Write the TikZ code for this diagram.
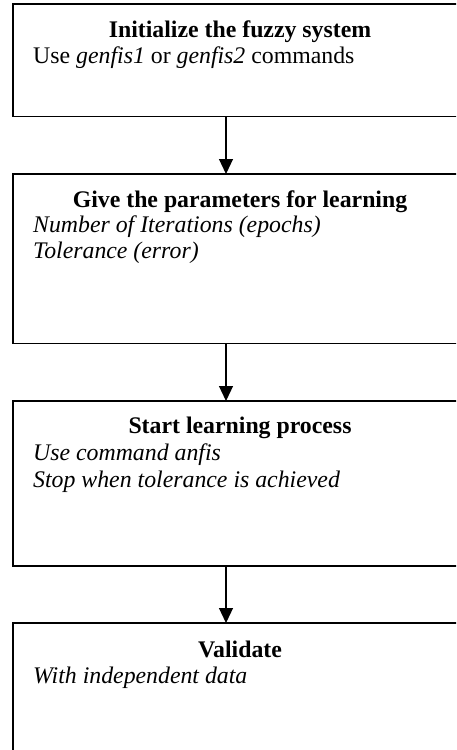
\documentclass[tikz,border=0pt]{standalone}
\usepackage{fontspec}
\setmainfont{Liberation Serif}
\usetikzlibrary{arrows.meta}
\begin{document}
\begin{tikzpicture}[x=1pt,y=1pt,
  box/.style={draw, line width=1.8pt, minimum width=454pt, anchor=north west, inner sep=0pt, outer sep=0pt},
  title/.style={font=\fontsize{23.8}{27}\selectfont\bfseries, anchor=base, inner sep=0pt},
  body/.style={font=\fontsize{23.8}{27}\selectfont\itshape, anchor=base west, inner sep=0pt},
  arr/.style={-{Triangle[length=15pt,width=14pt]}, line width=1.2pt}]
\useasboundingbox (0,0) rectangle (456,-750);
\clip (0,0) rectangle (456,-750);
\node[box, minimum height=112.5pt] (b1) at (13,-4) {};
\node[box, minimum height=169.5pt] (b2) at (13,-174) {};
\node[box, minimum height=165pt] (b3) at (13,-401) {};
\node[box, minimum height=160pt] (b4) at (13,-623) {};
\coordinate (ax) at (226,0);
\node[title] (t1) at (240,-37.5) {Initialize the fuzzy system};
\node[body] (d1) at (33,-63.5) {\upshape Use \textit{genfis1} or \textit{genfis2} commands};
\node[title] (t2) at (240,-207) {Give the parameters for learning};
\node[body] (d2a) at (33,-232) {Number of Iterations (epochs)};
\node[body] (d2b) at (33,-258) {Tolerance (error)};
\node[title] (t3) at (240,-433) {Start learning process};
\node[body] (d3a) at (33,-460) {Use command anfis};
\node[body] (d3b) at (33,-487) {Stop when tolerance is achieved};
\node[title] (t4) at (240,-657) {Validate};
\node[body] (d4) at (33,-683) {With independent data};
\draw[arr] (ax |- b1.south) -- (ax |- b2.north);
\draw[arr] (ax |- b2.south) -- (ax |- b3.north);
\draw[arr] (ax |- b3.south) -- (ax |- b4.north);
\end{tikzpicture}
\end{document}
